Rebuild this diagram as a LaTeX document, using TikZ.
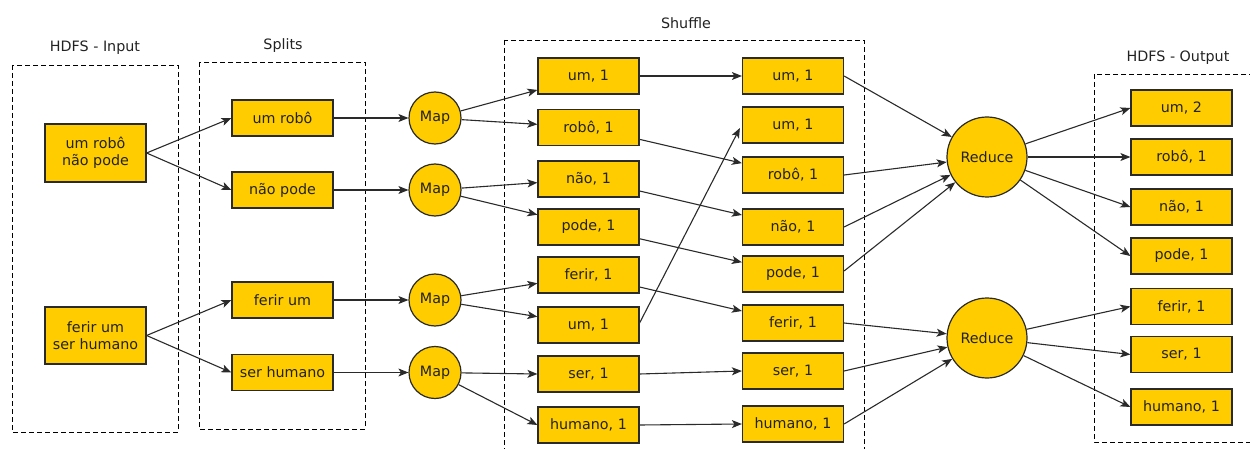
\documentclass[tikz,border=0pt]{standalone}
\usepackage{fontspec}
\setmainfont{DejaVu Sans}
\usetikzlibrary{arrows.meta,calc}
\definecolor{boxfill}{HTML}{FFCC00}
\definecolor{edgecol}{HTML}{2A2A2A}
\definecolor{txt}{HTML}{222222}
\begin{document}
\begin{tikzpicture}[x=1pt,y=-1pt,
  lblfont/.style={font=\fontsize{14.3}{17.5}\selectfont},
  box/.style={draw=edgecol, line width=1.2pt, fill=boxfill, minimum width=101pt, minimum height=36pt, inner sep=0pt, lblfont, text=txt, align=center},
  proc/.style={circle, draw=edgecol, line width=1.2pt, fill=boxfill, inner sep=0pt, lblfont, text=txt},
  mapc/.style={proc, minimum size=52pt},
  redc/.style={proc, minimum size=80pt},
  grp/.style={draw=black, line width=0.9pt, dash pattern=on 5pt off 3pt},
  lbl/.style={lblfont, text=txt},
  arr/.style={draw=edgecol, line width=1.1pt, -{Stealth[length=10pt,width=8pt,inset=2.5pt]}}]
\useasboundingbox (0,0) rectangle (1250,449);
\clip (0,0) rectangle (1250,449);

% groups
\draw[grp] (12,65) rectangle (178,432);
\draw[grp] (199,62) rectangle (365,429);
\draw[grp] (504,40) rectangle (864,470);
\draw[grp] (1094,74) rectangle (1270,442);
\node[lbl] (tIn) at (95,48) {HDFS - Input};
\node[lbl] (tSp) at (283,46) {Splits};
\node[lbl] (tSh) at (686,23) {Shuffle};
\node[lbl] (tOut) at (1178,58) {HDFS - Output};

% input
\node[box, minimum height=58pt] (In1) at (95.5,153) {um robô\\não pode};
\node[box, minimum height=57pt] (In2) at (95.5,335.5) {ferir um\\ser humano};

% splits
\node[box] (S1) at (282.5,118) {um robô};
\node[box] (S2) at (282.5,190) {não pode};
\node[box] (S3) at (282.5,300) {ferir um};
\node[box] (S4) at (282.5,372.5) {ser humano};

% maps
\node[mapc] (M1) at (435,118) {Map};
\node[mapc] (M2) at (435,190) {Map};
\node[mapc] (M3) at (435,300) {Map};
\node[mapc] (M4) at (435,372.5) {Map};

% shuffle left
\node[box] (La) at (588.5,76) {um, 1};
\node[box] (Lb) at (588.5,127.5) {robô, 1};
\node[box] (Lc) at (588.5,179) {não, 1};
\node[box] (Ld) at (588.5,227) {pode, 1};
\node[box] (Le) at (588.5,275) {ferir, 1};
\node[box] (Lf) at (588.5,325) {um, 1};
\node[box] (Lg) at (588.5,374) {ser, 1};
\node[box] (Lh) at (588.5,425) {humano, 1};

% shuffle right
\node[box] (Ra) at (793,76) {um, 1};
\node[box] (Rb) at (793,125) {um, 1};
\node[box] (Rc) at (793,175) {robô, 1};
\node[box] (Rd) at (793,227) {não, 1};
\node[box] (Re) at (793,274) {pode, 1};
\node[box] (Rf) at (793,323) {ferir, 1};
\node[box] (Rg) at (793,371) {ser, 1};
\node[box] (Rh) at (793,424) {humano, 1};

% reduce
\node[redc] (R1) at (987,157) {Reduce};
\node[redc] (R2) at (987,338) {Reduce};

% output
\node[box] (Oa) at (1181.5,108) {um, 2};
\node[box] (Ob) at (1181.5,157) {robô, 1};
\node[box] (Oc) at (1181.5,207) {não, 1};
\node[box] (Od) at (1181.5,256) {pode, 1};
\node[box] (Oe) at (1181.5,306.5) {ferir, 1};
\node[box] (Of) at (1181.5,354.5) {ser, 1};
\node[box] (Og) at (1181.5,407) {humano, 1};

% edges input -> splits
\draw[arr] (In1.east) -- (S1.west);
\draw[arr] (In1.east) -- (S2.west);
\draw[arr] (In2.east) -- (S3.west);
\draw[arr] (In2.east) -- (S4.west);
% splits -> maps
\draw[arr] (S1) -- (M1);
\draw[arr] (S2) -- (M2);
\draw[arr] (S3) -- (M3);
\draw[arr] (S4) -- (M4);
% maps -> shuffle
\draw[arr] (M1) -- (La);
\draw[arr] (M1) -- (Lb);
\draw[arr] (M2) -- (Lc);
\draw[arr] (M2) -- (Ld);
\draw[arr] (M3) -- (Le);
\draw[arr] (M3) -- (Lf);
\draw[arr] (M4) -- (Lg.west);
\draw[arr] (M4) -- (Lh.west);
% shuffle
\draw[arr] (La) -- (Ra);
\draw[arr] (Lb) -- (Rc);
\draw[arr] (Lc) -- (Rd);
\draw[arr] (Ld) -- (Re);
\draw[arr] (Le) -- (Rf);
\draw[arr] ($(Lf.east)+(0,-2)$) -- ($(Rb.west)+(-2,3)$);
\draw[arr] (Lg.east) -- (Rg.west);
\draw[arr] (Lh.east) -- (Rh.west);
% shuffle -> reduce
\draw[arr] (Ra.east) -- (R1);
\draw[arr] (Rc.east) -- (R1);
\draw[arr] (Rd.east) -- (R1);
\draw[arr] ($(Re.east)+(0,-3)$) -- (R1);
\draw[arr] (Rf.east) -- (R2);
\draw[arr] (Rg.east) -- (R2);
\draw[arr] (Rh.east) -- (R2);
% reduce -> output
\draw[arr] (R1) -- (Oa.west);
\draw[arr] (R1) -- (Ob.west);
\draw[arr] (R1) -- (Oc.west);
\draw[arr] (R1) -- (Od.west);
\draw[arr] (R2) -- (Oe.west);
\draw[arr] (R2) -- (Of.west);
\draw[arr] (R2) -- (Og.west);
\end{tikzpicture}
\end{document}
